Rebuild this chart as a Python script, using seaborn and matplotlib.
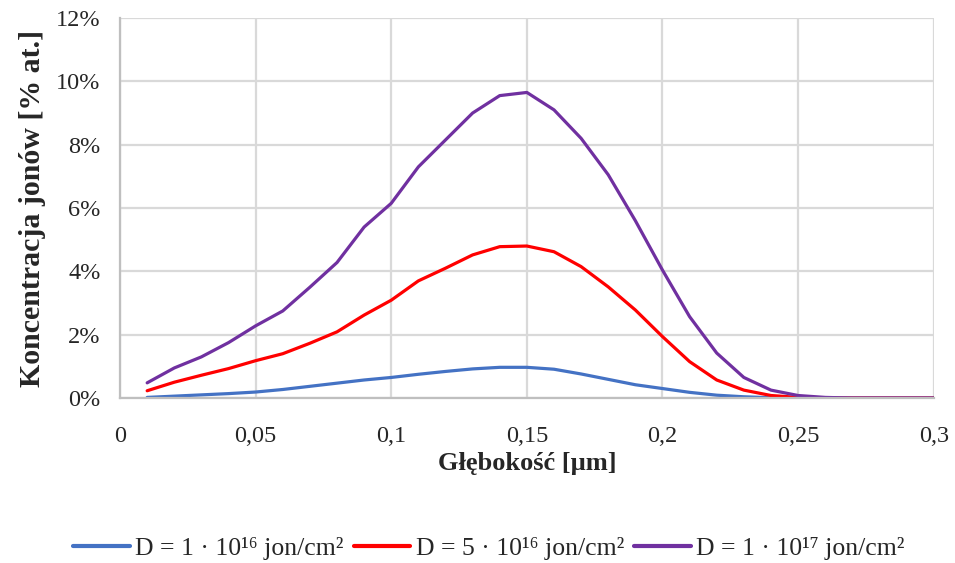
import matplotlib
matplotlib.use("Agg")
import matplotlib.pyplot as plt
import seaborn as sns
import pandas as pd
from matplotlib.ticker import FuncFormatter, MultipleLocator
from matplotlib.lines import Line2D

depth = [0.01, 0.02, 0.03, 0.04, 0.05, 0.06, 0.07, 0.08, 0.09, 0.10,
         0.11, 0.12, 0.13, 0.14, 0.15, 0.16, 0.17, 0.18, 0.19, 0.20,
         0.21, 0.22, 0.23, 0.24, 0.25, 0.26, 0.27, 0.28, 0.29, 0.30]

conc_1e16 = [0.02, 0.06, 0.10, 0.14, 0.19, 0.27, 0.37, 0.47, 0.57, 0.65,
             0.75, 0.84, 0.92, 0.97, 0.97, 0.91, 0.76, 0.59, 0.42, 0.30,
             0.18, 0.09, 0.04, 0.01, 0.0, 0.0, 0.0, 0.0, 0.0, 0.0]
conc_5e16 = [0.23, 0.50, 0.72, 0.93, 1.18, 1.40, 1.73, 2.09, 2.62, 3.09,
             3.70, 4.10, 4.52, 4.78, 4.80, 4.62, 4.15, 3.51, 2.78, 1.94,
             1.15, 0.57, 0.25, 0.08, 0.02, 0.0, 0.0, 0.0, 0.0, 0.0]
conc_1e17 = [0.48, 0.95, 1.30, 1.75, 2.28, 2.75, 3.50, 4.28, 5.40, 6.15,
             7.30, 8.15, 9.00, 9.55, 9.65, 9.10, 8.20, 7.05, 5.60, 4.04,
             2.57, 1.42, 0.65, 0.25, 0.08, 0.02, 0.0, 0.0, 0.0, 0.0]

labels = ["D = 1 · 10¹⁶ jon/cm²", "D = 5 · 10¹⁶ jon/cm²", "D = 1 · 10¹⁷ jon/cm²"]
colors = ["#4472C4", "#FF0000", "#7030A0"]
x_ticks = [0, 0.05, 0.1, 0.15, 0.2, 0.25, 0.3]

frames = []
for lab, vals in zip(labels, [conc_1e16, conc_5e16, conc_1e17]):
    frames.append(pd.DataFrame({"depth": depth, "conc": vals, "series": lab}))
df = pd.concat(frames, ignore_index=True)

sns.set_theme(style="whitegrid")
plt.rcParams["font.family"] = ["Liberation Serif", "DejaVu Serif"]

fig = plt.figure(figsize=(9.55, 5.63), dpi=100)
ax = fig.add_axes([0.1257, 0.293, 0.852, 0.675])

sns.lineplot(data=df, x="depth", y="conc", hue="series", palette=colors,
             linewidth=2.3, ax=ax, legend=False)

ax.set_xlim(0, 0.3)
ax.set_ylim(0, 12)
ax.set_xticks(x_ticks)
ax.yaxis.set_major_locator(MultipleLocator(2))

def fmt_x(v, pos):
    s = f"{v:.2f}".rstrip("0").rstrip(".")
    return s.replace(".", ",")

ax.xaxis.set_major_formatter(FuncFormatter(fmt_x))
ax.yaxis.set_major_formatter(FuncFormatter(lambda v, p: f"{v:.0f}%"))

ax.grid(True, color="#d9d9d9", linewidth=1.6)
for side in ["top", "right"]:
    ax.spines[side].set_visible(False)
for side in ["left", "bottom"]:
    ax.spines[side].set_color("#bfbfbf")
    ax.spines[side].set_linewidth(1.6)
ax.set_facecolor("white")

ax.tick_params(axis="x", labelsize=17.5, pad=20, colors="#262626", length=0)
ax.tick_params(axis="y", labelsize=17.5, pad=14, colors="#262626", length=0)

ax.set_xlabel("Głębokość [µm]", fontsize=19, fontweight="bold", labelpad=4, color="#262626")
ax.set_ylabel("Koncentracja jonów [% at.]", fontsize=21.5, fontweight="bold", labelpad=7, color="#262626")

handles = [Line2D([0], [0], color=c, linewidth=3) for c in colors]
fig.legend(handles, labels, loc="center", bbox_to_anchor=(0.512, 0.026), ncol=3,
           frameon=False, fontsize=18.5, handlelength=2.2, columnspacing=0.4,
           handletextpad=0.2, labelcolor="#262626")

fig.savefig("out.png", dpi=100)
